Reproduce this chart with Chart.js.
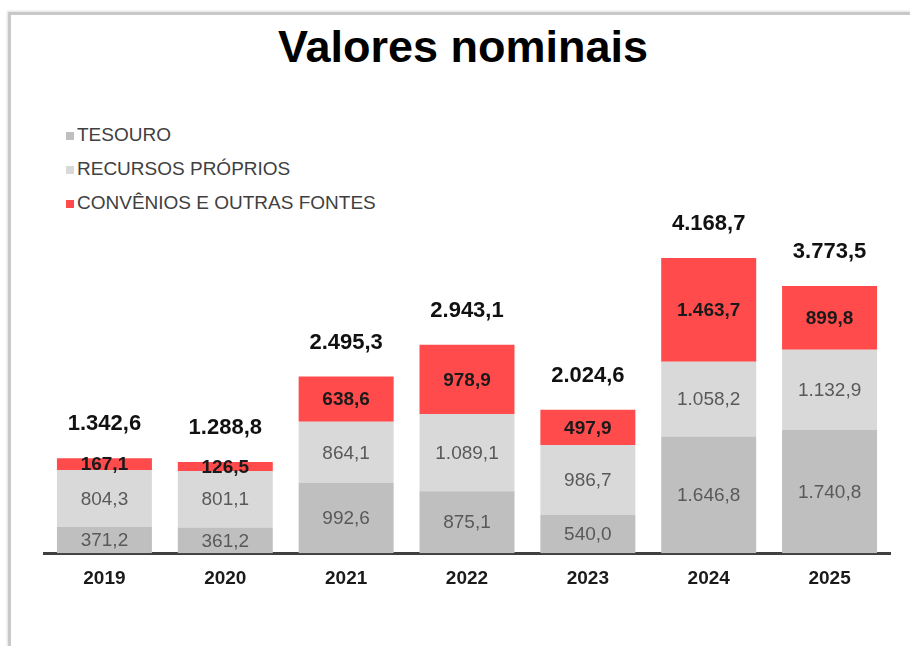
<!DOCTYPE html>
<html>
<head>
<meta charset="utf-8">
<script src="https://cdn.jsdelivr.net/npm/chart.js@4.4.1/dist/chart.umd.min.js"></script>
<style>
  html, body { margin: 0; padding: 0; background: #ffffff; }
  #wrap { position: relative; width: 910px; height: 646px; overflow: hidden; background: #fff; }
  #frame { position: absolute; left: 8px; top: 12px; width: 1000px; height: 1000px;
           border-top: 3px solid #c9c9c9; border-left: 3px solid #c9c9c9;
           box-shadow: -1px -1px 2px rgba(0,0,0,0.12); }
  #title { position: absolute; left: 0; top: 21px; width: 926px; text-align: center;
           font-family: "Liberation Sans", Arial, sans-serif; font-weight: bold; font-size: 45px; color: #000; }
  .lg { position: absolute; left: 66px; font-family: "Liberation Sans", Arial, sans-serif;
        font-size: 19px; color: #404040; white-space: nowrap; }
  .lg i { display: inline-block; width: 8px; height: 8px; margin-right: 3px; vertical-align: 1px; }
  canvas { position: absolute; left: 0; top: 0; }
</style>
</head>
<body>
<div id="wrap">
  <div id="frame"></div>
  <div id="title">Valores nominais</div>
  <div id="legend"></div>
  <canvas id="c" width="910" height="646"></canvas>
</div>
<script>
const categories = ["2019", "2020", "2021", "2022", "2023", "2024", "2025"];
const seriesNames = ["TESOURO", "RECURSOS PRÓPRIOS", "CONVÊNIOS E OUTRAS FONTES"];
const tesouro = [371.2, 361.2, 992.6, 875.1, 540.0, 1646.8, 1740.8];
const recursosProprios = [804.3, 801.1, 864.1, 1089.1, 986.7, 1058.2, 1132.9];
const convenios = [167.1, 126.5, 638.6, 978.9, 497.9, 1463.7, 899.8];
const totals = [1342.6, 1288.8, 2495.3, 2943.1, 2024.6, 4168.7, 3773.5];
const colors = ["#bfbfbf", "#d9d9d9", "#ff4b4b"];

function fmt(v) {
  const s = v.toFixed(1);
  const parts = s.split(".");
  const intPart = parts[0].replace(/\B(?=(\d{3})+(?!\d))/g, ".");
  return intPart + "," + parts[1];
}

// HTML legend
const legend = document.getElementById("legend");
seriesNames.forEach((n, i) => {
  const d = document.createElement("div");
  d.className = "lg";
  d.style.top = (124 + i * 34) + "px";
  d.innerHTML = '<i style="background:' + colors[i] + '"></i>' + n;
  legend.appendChild(d);
});

const labelPlugin = {
  id: "labels",
  afterDatasetsDraw(chart) {
    const ctx = chart.ctx;
    ctx.save();
    ctx.textAlign = "center";
    ctx.textBaseline = "middle";
    chart.data.datasets.forEach((ds, di) => {
      const meta = chart.getDatasetMeta(di);
      meta.data.forEach((bar, i) => {
        const y = (bar.y + bar.base) / 2;
        if (di === 2) {
          ctx.font = "bold 19px 'Liberation Sans', Arial, sans-serif";
          ctx.fillStyle = "#1a1a1a";
        } else {
          ctx.font = "19px 'Liberation Sans', Arial, sans-serif";
          ctx.fillStyle = "#595959";
        }
        ctx.fillText(fmt(ds.data[i]), bar.x, y + 1);
      });
    });
    const topMeta = chart.getDatasetMeta(2);
    ctx.font = "bold 22px 'Liberation Sans', Arial, sans-serif";
    ctx.fillStyle = "#111111";
    topMeta.data.forEach((bar, i) => {
      ctx.fillText(fmt(totals[i]), bar.x, bar.y - 34);
    });
    ctx.restore();
  }
};

new Chart(document.getElementById("c"), {
  type: "bar",
  data: {
    labels: categories,
    datasets: [
      { label: seriesNames[0], data: tesouro, backgroundColor: colors[0] },
      { label: seriesNames[1], data: recursosProprios, backgroundColor: colors[1] },
      { label: seriesNames[2], data: convenios, backgroundColor: colors[2] }
    ]
  },
  options: {
    responsive: false,
    animation: false,
    devicePixelRatio: 1,
    layout: { padding: { left: 44, right: 20, top: 200, bottom: 42 } },
    plugins: { legend: { display: false }, title: { display: false }, tooltip: { enabled: false } },
    datasets: { bar: { barPercentage: 0.786, categoryPercentage: 1.0, borderWidth: 0 } },
    scales: {
      x: {
        stacked: true,
        grid: { display: false, drawTicks: false },
        border: { display: true, color: "#404040", width: 3 },
        ticks: { padding: 14, color: "#1a1a1a", font: { family: "'Liberation Sans', Arial, sans-serif", size: 19, weight: "bold" } }
      },
      y: { stacked: true, display: false, min: 0, max: 4988 }
    }
  },
  plugins: [labelPlugin]
});
</script>
</body>
</html>
